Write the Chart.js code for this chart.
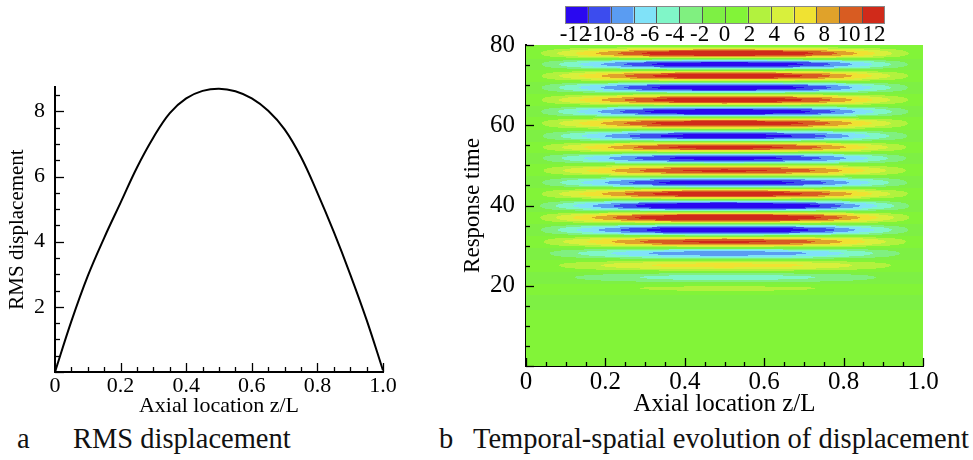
<!DOCTYPE html>
<html>
<head>
<meta charset="utf-8">
<script src="https://cdn.jsdelivr.net/npm/chart.js@4.4.1/dist/chart.umd.min.js"></script>
<style>
  html, body { margin: 0; padding: 0; background: #fff; }
  body { width: 973px; height: 460px; position: relative; overflow: hidden; font-family: "Liberation Serif", serif; }
  #wrapA { position: absolute; left: 0; top: 0; width: 440px; height: 420px; }
  #wrapB { position: absolute; left: 440px; top: 0; width: 533px; height: 420px; }
  .cap { position: absolute; top: 423px; font-size: 28.5px; line-height: 32px; color: #111; white-space: pre; }
</style>
</head>
<body>
<div id="wrapA"><canvas id="rmsChart" width="440" height="420"></canvas></div>
<div id="wrapB"><canvas id="fieldChart" width="533" height="420"></canvas></div>
<div class="cap" style="left:17px">a</div>
<div class="cap" style="left:73px">RMS displacement</div>
<div class="cap" style="left:439px">b</div>
<div class="cap" style="left:473px">Temporal-spatial evolution of displacement</div>
<script>
// --- dados ---
const zPos = [0, 0.05, 0.1, 0.15, 0.2, 0.25, 0.3, 0.35, 0.4, 0.45, 0.5,
              0.55, 0.6, 0.65, 0.7, 0.75, 0.8, 0.85, 0.9, 0.95, 1.0];
const rmsDisp = [0, 1.56, 2.95, 4.12, 5.2, 6.28, 7.2, 7.95, 8.4, 8.63, 8.7,
                 8.62, 8.4, 8.02, 7.45, 6.6, 5.5, 4.3, 3.0, 1.6, 0.05];

// tempos das cristas (centro da barra) e valor com sinal
const crestTime = [0, 14, 16.6, 19.4, 22.1, 25.1, 28.1, 31.0, 33.9, 37.0, 39.9, 42.9,
                   45.7, 48.7, 51.8, 54.5, 57.3, 60.5, 63.4, 66.3, 69.4, 72.3, 75.2, 77.9, 80];
const crestValue = [0, 0, -1.2, 2.5, -5, 7, -9.5, 12.5, -14.5, 15.5, -15.5, 14,
                    -13.5, 12.5, -13, 13, -13.5, 14, -14.5, 14, -14, 14, -14, 14.8, 0];

const colorLevels = [-12, -10, -8, -6, -4, -2, 0, 2, 4, 6, 8, 10, 12];

const xTicks = [0, 0.2, 0.4, 0.6, 0.8, 1.0];
const rmsTicks = [2, 4, 6, 8];
const timeTicks = [20, 40, 60, 80];

// paleta (14 faixas)
const palette = ['#2a08f0', '#3c4cee', '#5a9cf2', '#80e2f8', '#80f6c8', '#80f080', '#7ef044',
                 '#82f438', '#b2f23e', '#d8f03c', '#f0e232', '#e0a22a', '#d85c22', '#d02a1a'];

const serif = '"Liberation Serif", "Times New Roman", serif';
Chart.defaults.font.family = serif;
Chart.defaults.color = '#000';

function lerp(xs, ys, x) {
    if (x <= xs[0]) return ys[0];
    for (let i = 1; i < xs.length; i++) {
        if (x <= xs[i]) {
            const f = (x - xs[i - 1]) / (xs[i] - xs[i - 1]);
            return ys[i - 1] + (ys[i] - ys[i - 1]) * f;
        }
    }
    return ys[ys.length - 1];
}

// suaviza entre cristas vizinhas
function blend(xs, ys, x) {
    if (x <= xs[0]) return ys[0];
    for (let i = 1; i < xs.length; i++) {
        if (x <= xs[i]) {
            const f = (x - xs[i - 1]) / (xs[i] - xs[i - 1]);
            const w = (1 - Math.cos(Math.PI * f)) / 2;
            return ys[i - 1] + (ys[i] - ys[i - 1]) * w;
        }
    }
    return ys[ys.length - 1];
}

function binIndex(v) {
    if (v < colorLevels[0]) return 0;
    for (let k = 1; k < colorLevels.length; k++) {
        if (v < colorLevels[k]) return k;
    }
    return colorLevels.length;
}

function hexRgb(h) {
    return [parseInt(h.slice(1, 3), 16), parseInt(h.slice(3, 5), 16), parseInt(h.slice(5, 7), 16)];
}

// ticks para dentro (maiores e menores)
function makeTicks(cfg) {
    return {
        id: 'inwardTicks',
        afterDraw(chart) {
            const {ctx} = chart;
            const x = chart.scales.x, y = chart.scales.y;
            ctx.save();
            ctx.strokeStyle = '#000';
            ctx.lineWidth = 1.3;
            const n = Math.round((x.max - x.min) / cfg.xMinor);
            for (let k = 0; k <= n; k++) {
                const v = x.min + k * cfg.xMinor;
                const px = Math.round(x.getPixelForValue(v)) + 0.5;
                const major = k % Math.round(cfg.xMajor / cfg.xMinor) === 0;
                const len = major ? cfg.majorLen : cfg.minorLen;
                ctx.beginPath();
                ctx.moveTo(px, chart.chartArea.bottom);
                ctx.lineTo(px, chart.chartArea.bottom - len);
                ctx.stroke();
            }
            const m = Math.floor((y.max - y.min) / cfg.yMinor + 1e-6);
            for (let k = 0; k <= m; k++) {
                const v = y.min + k * cfg.yMinor;
                const py = Math.round(y.getPixelForValue(v)) + 0.5;
                const major = k % Math.round(cfg.yMajor / cfg.yMinor) === 0;
                const len = major ? cfg.majorLen : cfg.minorLen;
                ctx.beginPath();
                ctx.moveTo(chart.chartArea.left, py);
                ctx.lineTo(chart.chartArea.left + len, py);
                ctx.stroke();
            }
            ctx.restore();
        }
    };
}

// campo deslocamento(z, t) = forma (RMS normalizado) x amplitude no tempo
const fieldPlugin = {
    id: 'field',
    beforeDatasetsDraw(chart) {
        const {ctx, chartArea: a} = chart;
        const x = chart.scales.x, y = chart.scales.y;
        const L = Math.round(a.left), T = Math.round(a.top);
        const W = Math.round(a.right) - L, H = Math.round(a.bottom) - T;
        const peak = Math.max(...rmsDisp);
        const shape = [];
        for (let i = 0; i < W; i++) shape.push(lerp(zPos, rmsDisp, x.getValueForPixel(L + i + 0.5)) / peak);
        const amp = [];
        for (let j = 0; j < H; j++) amp.push(blend(crestTime, crestValue, y.getValueForPixel(T + j + 0.5)));
        const rgb = palette.map(hexRgb);
        const img = ctx.createImageData(W, H);
        for (let j = 0; j < H; j++) {
            for (let i = 0; i < W; i++) {
                const c = rgb[binIndex(shape[i] * amp[j])];
                const p = (j * W + i) * 4;
                img.data[p] = c[0]; img.data[p + 1] = c[1]; img.data[p + 2] = c[2]; img.data[p + 3] = 255;
            }
        }
        ctx.putImageData(img, L, T);
    },
    afterDraw(chart) {
        // barra de cores
        const {ctx} = chart;
        const x0 = 125, x1 = 445, top = 6, h = 18;
        const bw = (x1 - x0) / palette.length;
        ctx.save();
        palette.forEach((c, k) => {
            ctx.fillStyle = c;
            ctx.fillRect(x0 + k * bw, top, bw, h);
        });
        ctx.strokeStyle = '#555';
        ctx.lineWidth = 1;
        for (let k = 1; k < palette.length; k++) {
            const px = Math.round(x0 + k * bw) + 0.5;
            ctx.beginPath(); ctx.moveTo(px, top); ctx.lineTo(px, top + h); ctx.stroke();
        }
        ctx.strokeStyle = '#888';
        ctx.strokeRect(x0 + 0.5, top + 0.5, x1 - x0 - 1, h - 1);
        ctx.fillStyle = '#000';
        ctx.font = '23px ' + serif;
        ctx.textAlign = 'center';
        ctx.textBaseline = 'middle';
        // rótulos espaçados de forma uniforme sob a barra
        const lx0 = 135, lx1 = 434;
        const step = (lx1 - lx0) / (colorLevels.length - 1);
        colorLevels.forEach((lv, k) => {
            ctx.fillText(String(lv), lx0 + k * step, 35);
        });
        ctx.restore();
    }
};

const fmtX = v => (v === 0 ? '0' : v.toFixed(1));

// --- (a) RMS ---
new Chart(document.getElementById('rmsChart'), {
    type: 'line',
    data: {
        datasets: [{
            data: zPos.map((z, i) => ({x: z, y: rmsDisp[i]})),
            borderColor: '#000',
            borderWidth: 2,
            pointRadius: 0,
            tension: 0.4,
            fill: false
        }]
    },
    options: {
        responsive: false,
        animation: false,
        layout: { padding: { top: 87, right: 57, left: 0, bottom: 0 } },
        plugins: { legend: { display: false }, tooltip: { enabled: false } },
        scales: {
            x: {
                type: 'linear', min: 0, max: 1,
                grid: { display: false },
                border: { display: true, color: '#000', width: 2 },
                afterBuildTicks: s => { s.ticks = xTicks.map(v => ({value: v})); },
                afterFit: s => { s.height = 48; },
                ticks: { font: { family: serif, size: 22, lineHeight: 1 }, padding: -5, callback: v => fmtX(v), maxRotation: 0 },
                title: { display: true, text: 'Axial location z/L', font: { family: serif, size: 22 }, padding: { top: 0, bottom: 1 } }
            },
            y: {
                type: 'linear', min: 0, max: 8.75,
                grid: { display: false },
                border: { display: true, color: '#000', width: 2 },
                afterBuildTicks: s => { s.ticks = rmsTicks.map(v => ({value: v})); },
                afterFit: s => { s.width = 55; },
                ticks: { font: { family: serif, size: 22 }, padding: 2, callback: v => String(v) },
                title: { display: true, text: 'RMS displacement', font: { family: serif, size: 21 }, padding: { top: 5, bottom: 0 } }
            }
        }
    },
    plugins: [makeTicks({ xMinor: 0.05, xMajor: 0.2, yMinor: 0.5, yMajor: 2, majorLen: 9, minorLen: 5 })]
});

// --- (b) campo temporal-espacial ---
new Chart(document.getElementById('fieldChart'), {
    type: 'scatter',
    data: { datasets: [{ data: [] }] },
    options: {
        responsive: false,
        animation: false,
        layout: { padding: { top: 45, right: 50, left: 0, bottom: 0 } },
        plugins: { legend: { display: false }, tooltip: { enabled: false } },
        scales: {
            x: {
                type: 'linear', min: 0, max: 1,
                grid: { display: false },
                border: { display: true, color: '#000', width: 2 },
                afterBuildTicks: s => { s.ticks = xTicks.map(v => ({value: v})); },
                afterFit: s => { s.height = 54; },
                ticks: { font: { family: serif, size: 25, lineHeight: 1 }, padding: -4, callback: v => fmtX(v), maxRotation: 0 },
                title: { display: true, text: 'Axial location z/L', font: { family: serif, size: 25 }, padding: { top: 0, bottom: 1 } }
            },
            y: {
                type: 'linear', min: 0, max: 80,
                grid: { display: false },
                border: { display: true, color: '#000', width: 2 },
                afterBuildTicks: s => { s.ticks = timeTicks.map(v => ({value: v})); },
                afterFit: s => { s.width = 86; },
                ticks: { font: { family: serif, size: 25 }, padding: 3, callback: v => String(v) },
                title: { display: true, text: 'Response time', font: { family: serif, size: 23 }, padding: { top: 19, bottom: 0 } }
            }
        }
    },
    plugins: [fieldPlugin, makeTicks({ xMinor: 0.05, xMajor: 0.2, yMinor: 5, yMajor: 20, majorLen: 8, minorLen: 4 })]
});
</script>
</body>
</html>
